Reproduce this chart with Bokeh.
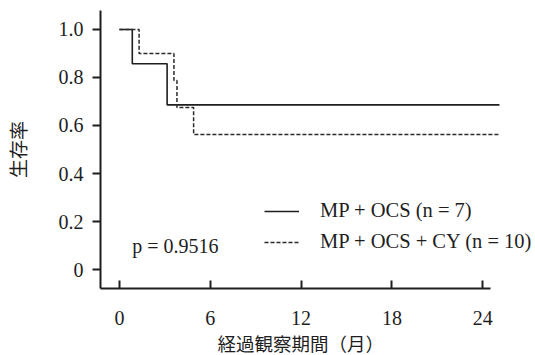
from bokeh.plotting import figure
from bokeh.models import Label, Legend, LegendItem, FixedTicker, Range1d, Title
from bokeh.embed import file_html
from bokeh.resources import INLINE

# Data (Kaplan-Meier step curves)
t_mp_ocs = [0, 0.85, 3.15, 25.1]
s_mp_ocs = [1.0, 0.857, 0.686, 0.686]
t_mp_ocs_cy = [0, 1.3, 3.6, 3.8, 4.9, 25.1]
s_mp_ocs_cy = [1.0, 0.9, 0.7875, 0.675, 0.5625, 0.5625]

x_ticks = [0, 6, 12, 18, 24]
y_ticks = [0, 0.2, 0.4, 0.6, 0.8, 1.0]
y_tick_labels = ["0", "0.2", "0.4", "0.6", "0.8", "1.0"]
series_labels = ["MP + OCS (n = 7)", "MP + OCS + CY (n = 10)"]
p_text = "p = 0.9516"
x_title = "経過観察期間（月）"
y_title = "生存率"

SERIF = "Liberation Serif"
CJK = "Noto Sans CJK JP"
INK = "#1e1e1e"

p = figure(width=535, height=355, output_backend="svg", toolbar_location=None,
           x_range=Range1d(-1.25, 27.48), y_range=Range1d(-0.079, 1.079),
           min_border_left=98, min_border_right=0, min_border_top=10, min_border_bottom=67)
p.outline_line_color = None
p.xgrid.visible = False
p.ygrid.visible = False
p.background_fill_color = "white"
p.border_fill_color = "white"

r1 = p.step(t_mp_ocs, s_mp_ocs, mode="after", line_color=INK, line_width=1.6)
r2 = p.step(t_mp_ocs_cy, s_mp_ocs_cy, mode="after", line_color="#2a2a2a",
            line_width=1.5, line_dash="4 2")

xa = p.xaxis[0]
xa.ticker = FixedTicker(ticks=x_ticks)
xa.bounds = (-1.25, 24.52)
xa.major_tick_in = 8
xa.major_tick_out = 0
xa.minor_tick_line_color = None
xa.axis_line_width = 2
xa.axis_line_color = INK
xa.major_tick_line_width = 2
xa.major_tick_line_color = INK
xa.major_label_text_font = SERIF
xa.major_label_text_font_size = "20px"
xa.major_label_text_color = INK
xa.major_label_standoff = 22

ya = p.yaxis[0]
ya.ticker = FixedTicker(ticks=y_ticks)
ya.major_label_overrides = {t: l for t, l in zip(y_ticks, y_tick_labels)}
ya.major_tick_in = 0
ya.major_tick_out = 8
ya.minor_tick_line_color = None
ya.axis_line_width = 2
ya.axis_line_color = INK
ya.major_tick_line_width = 2
ya.major_tick_line_color = INK
ya.major_label_text_font = SERIF
ya.major_label_text_font_size = "20px"
ya.major_label_text_color = INK
ya.major_label_standoff = 9
ya.axis_label = y_title
ya.axis_label_text_font = CJK
ya.axis_label_text_font_size = "19px"
ya.axis_label_text_font_style = "normal"
ya.axis_label_text_color = INK
ya.axis_label_standoff = 25

xt = Title(text=x_title, align="left", offset=117, standoff=0,
           text_font=CJK, text_font_size="18.5px", text_font_style="normal",
           text_color=INK)
p.add_layout(xt, "below")

legend = Legend(items=[LegendItem(label=series_labels[0], renderers=[r1]),
                       LegendItem(label=series_labels[1], renderers=[r2])],
                location=(164, 35), padding=0, margin=0, spacing=8,
                glyph_width=35, glyph_height=20, label_height=20, label_standoff=21,
                label_text_font=SERIF, label_text_font_size="20.5px", label_text_color=INK,
                border_line_alpha=0, background_fill_alpha=0)
p.add_layout(legend)

p.add_layout(Label(x=0.85, y=0.1, text=p_text, text_font=SERIF, text_font_size="20px",
                   text_color=INK, text_baseline="middle", text_align="left"))

open("out.html", "w").write(file_html(p, INLINE))
